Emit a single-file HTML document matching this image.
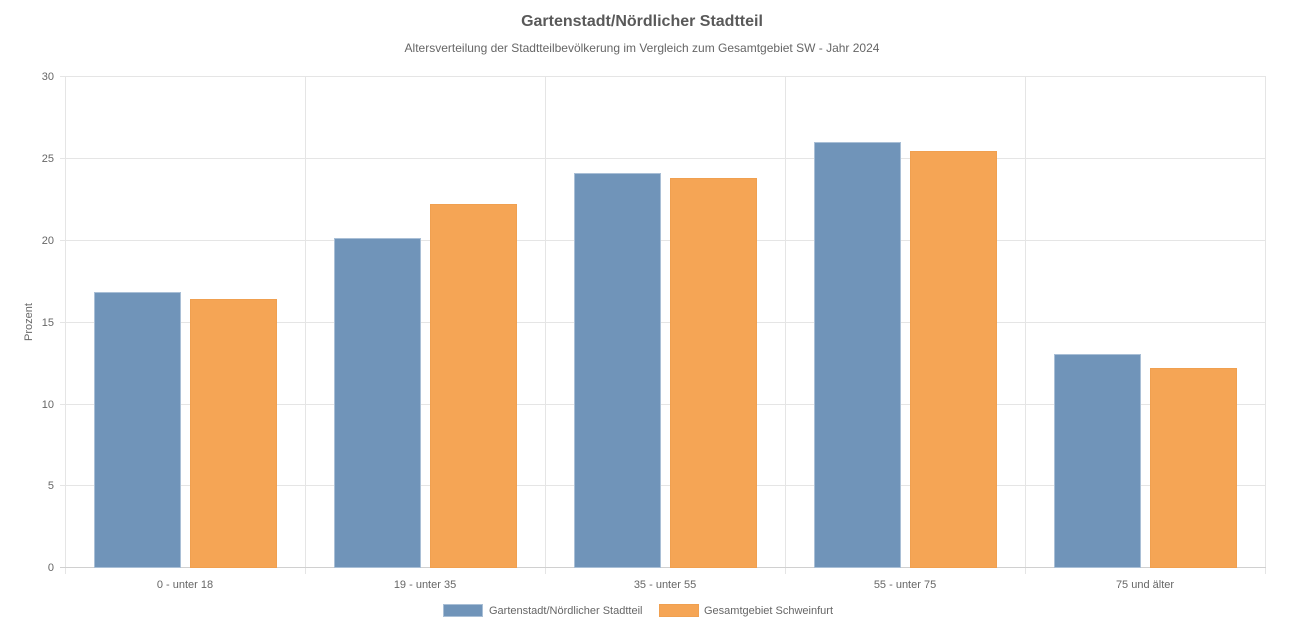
<!DOCTYPE html>
<html><head><meta charset="utf-8"><style>
body{margin:0;background:#fff;}
svg text{font-family:"Liberation Sans",Arial,sans-serif;}
</style></head><body>
<svg width="1296" height="624" xmlns="http://www.w3.org/2000/svg">
<text x="642" y="26" text-anchor="middle" font-size="16" font-weight="bold" fill="#595959">Gartenstadt/Nördlicher Stadtteil</text>
<text x="642" y="52" text-anchor="middle" font-size="12" fill="#666">Altersverteilung der Stadtteilbevölkerung im Vergleich zum Gesamtgebiet SW - Jahr 2024</text>
<g stroke="#e5e5e5" stroke-width="1">
<line x1="60" y1="76.5" x2="1266" y2="76.5"/>
<line x1="60" y1="158.5" x2="1266" y2="158.5"/>
<line x1="60" y1="240.5" x2="1266" y2="240.5"/>
<line x1="60" y1="322.5" x2="1266" y2="322.5"/>
<line x1="60" y1="404.5" x2="1266" y2="404.5"/>
<line x1="60" y1="485.5" x2="1266" y2="485.5"/>
<line x1="65.5" y1="76" x2="65.5" y2="574"/>
<line x1="305.5" y1="76" x2="305.5" y2="574"/>
<line x1="545.5" y1="76" x2="545.5" y2="574"/>
<line x1="785.5" y1="76" x2="785.5" y2="574"/>
<line x1="1025.5" y1="76" x2="1025.5" y2="574"/>
<line x1="1265.5" y1="76" x2="1265.5" y2="574"/>
</g>
<line x1="60" y1="567.5" x2="1266" y2="567.5" stroke="#d0d0d0"/>
<g font-size="11" fill="#666" text-anchor="end">
<text x="54" y="80">30</text><text x="54" y="162">25</text><text x="54" y="244">20</text>
<text x="54" y="326">15</text><text x="54" y="408">10</text><text x="54" y="489">5</text><text x="54" y="571">0</text>
</g>
<text transform="translate(32,322) rotate(-90)" text-anchor="middle" font-size="11" fill="#666">Prozent</text>
<g fill="#7094b9" stroke="#a9bfd6" stroke-width="1">
<rect x="94.5" y="292.5" width="86" height="275"/>
<rect x="334.5" y="238.5" width="86" height="329"/>
<rect x="574.5" y="173.5" width="86" height="394"/>
<rect x="814.5" y="142.5" width="86" height="425"/>
<rect x="1054.5" y="354.5" width="86" height="213"/>
</g>
<g fill="#f5a555" stroke="#f0a050" stroke-width="1">
<rect x="190.5" y="299.5" width="86" height="268"/>
<rect x="430.5" y="204.5" width="86" height="363"/>
<rect x="670.5" y="178.5" width="86" height="389"/>
<rect x="910.5" y="151.5" width="86" height="416"/>
<rect x="1150.5" y="368.5" width="86" height="199"/>
</g>
<g font-size="11" fill="#666" text-anchor="middle">
<text x="185" y="588">0 - unter 18</text><text x="425" y="588">19 - unter 35</text>
<text x="665" y="588">35 - unter 55</text><text x="905" y="588">55 - unter 75</text>
<text x="1145" y="588">75 und älter</text>
</g>
<rect x="443.5" y="604.5" width="39" height="12" fill="#7094b9" stroke="#a9bfd6"/>
<text x="489" y="614" font-size="11" fill="#666">Gartenstadt/Nördlicher Stadtteil</text>
<rect x="659.5" y="604.5" width="39" height="12" fill="#f5a555" stroke="#f0a050"/>
<text x="704" y="614" font-size="11" fill="#666">Gesamtgebiet Schweinfurt</text>
</svg>
</body></html>
